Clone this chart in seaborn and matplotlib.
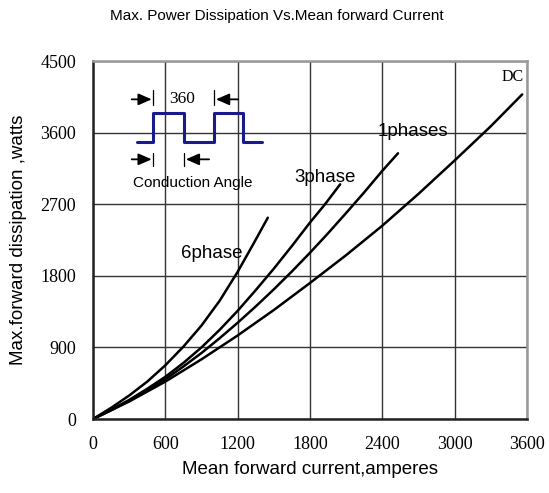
import numpy as np
import pandas as pd
import matplotlib
matplotlib.use("Agg")
import matplotlib.pyplot as plt
import seaborn as sns

# curves (mean forward current A -> dissipation W)
dc_x = [0, 300, 600, 900, 1200, 1500, 1800, 2100, 2400, 2700, 3000, 3300, 3560]
dc_y = [0, 220, 470, 750, 1050, 1370, 1710, 2060, 2430, 2830, 3250, 3680, 4080]

ph1_x = [0, 150, 300, 450, 600, 750, 900, 1050, 1200, 1350, 1500, 1650,
         1800, 1950, 2100, 2250, 2400, 2530]
ph1_y = [0, 110, 230, 360, 500, 660, 830, 1015, 1210, 1415, 1630, 1855,
         2090, 2335, 2590, 2850, 3120, 3340]

ph3_x = [0, 150, 300, 450, 600, 750, 900, 1050, 1200, 1350, 1500, 1650,
         1800, 1925, 2050]
ph3_y = [0, 115, 240, 380, 530, 705, 900, 1120, 1360, 1620, 1890, 2175,
         2470, 2700, 2950]

ph6_x = [0, 150, 300, 450, 600, 750, 900, 1050, 1200, 1330, 1450]
ph6_y = [0, 140, 295, 470, 675, 910, 1175, 1485, 1850, 2200, 2530]

x_ticks = [0, 600, 1200, 1800, 2400, 3000, 3600]
y_ticks = [0, 900, 1800, 2700, 3600, 4500]

# inset square wave
wave_x = [363, 500, 500, 758, 758, 1004, 1004, 1247, 1247, 1400]
wave_y = [3486, 3486, 3842, 3842, 3486, 3486, 3842, 3842, 3486, 3486]

sns.set_style("white")
plt.rcParams['font.family'] = ['Liberation Sans', 'DejaVu Sans']
plt.rcParams['text.color'] = 'black'
plt.rcParams['axes.labelcolor'] = 'black'
plt.rcParams['xtick.color'] = 'black'
plt.rcParams['ytick.color'] = 'black'
serif = ['Liberation Serif', 'DejaVu Serif']

fig = plt.figure(figsize=(5.49, 4.93), dpi=100)
ax = fig.add_axes([93 / 549, 1 - 419 / 493, 434 / 549, 358 / 493])

for xs, ys in [(dc_x, dc_y), (ph1_x, ph1_y), (ph3_x, ph3_y), (ph6_x, ph6_y)]:
    df = pd.DataFrame({'I': xs, 'P': ys})
    sns.lineplot(data=df, x='I', y='P', color='black', lw=1.8, ax=ax, sort=False)

ax.set_xlim(0, 3600)
ax.set_ylim(0, 4500)
ax.set_xticks(x_ticks)
ax.set_yticks(y_ticks)
ax.set_xticklabels([str(t) for t in x_ticks], family=serif, fontsize=13)
ax.set_yticklabels([str(t) for t in y_ticks], family=serif, fontsize=13)
ax.tick_params(length=0, pad=12)
ax.grid(True, color='#333333', lw=1.0)

for side in ['left', 'bottom']:
    ax.spines[side].set_color('#222222')
    ax.spines[side].set_linewidth(1.8)
for side in ['top', 'right']:
    ax.spines[side].set_color('#999999')
    ax.spines[side].set_linewidth(1.8)

ax.set_xlabel('Mean forward current,amperes', fontsize=13.5, labelpad=6)
ax.set_ylabel('Max.forward dissipation ,watts', fontsize=13.5, labelpad=10)

fig.text(277 / 549, 1 - 16 / 493, 'Max. Power Dissipation Vs.Mean forward Current',
         ha='center', va='center', fontsize=11)

# curve labels
ax.text(3485, 4299, 'DC', family=serif, fontsize=11.5, ha='center', va='center')
ax.text(2656, 3620, '1phases', fontsize=13.5, ha='center', va='center')
ax.text(1925, 3030, '3phase', fontsize=13.5, ha='center', va='center')
ax.text(985, 2083, '6phase', fontsize=13.5, ha='center', va='center')

# inset: conduction angle sketch
ax.plot(wave_x, wave_y, color='#1a1a8c', lw=2.2)
ax.plot([500, 500], [3947, 4135], color='black', lw=0.9)
ax.plot([1004, 1004], [3947, 4135], color='black', lw=0.9)
ax.plot([500, 500], [3180, 3343], color='black', lw=0.9)
ax.plot([755, 755], [3180, 3343], color='black', lw=0.9)
arrow = dict(arrowstyle='-|>,head_length=0.8,head_width=0.35', color='black', lw=1.3,
             shrinkA=0, shrinkB=0)
ax.annotate('', xy=(487, 4018), xytext=(321, 4018), arrowprops=arrow)
ax.annotate('', xy=(1020, 4018), xytext=(1203, 4018), arrowprops=arrow)
ax.annotate('', xy=(487, 3264), xytext=(321, 3264), arrowprops=arrow)
ax.annotate('', xy=(770, 3264), xytext=(963, 3264), arrowprops=arrow)
ax.text(739, 4018, '360', family=serif, fontsize=12.5, ha='center', va='center')
ax.text(332, 2966, 'Conduction Angle', fontsize=11, ha='left', va='center')

fig.savefig('out.png', dpi=100)
